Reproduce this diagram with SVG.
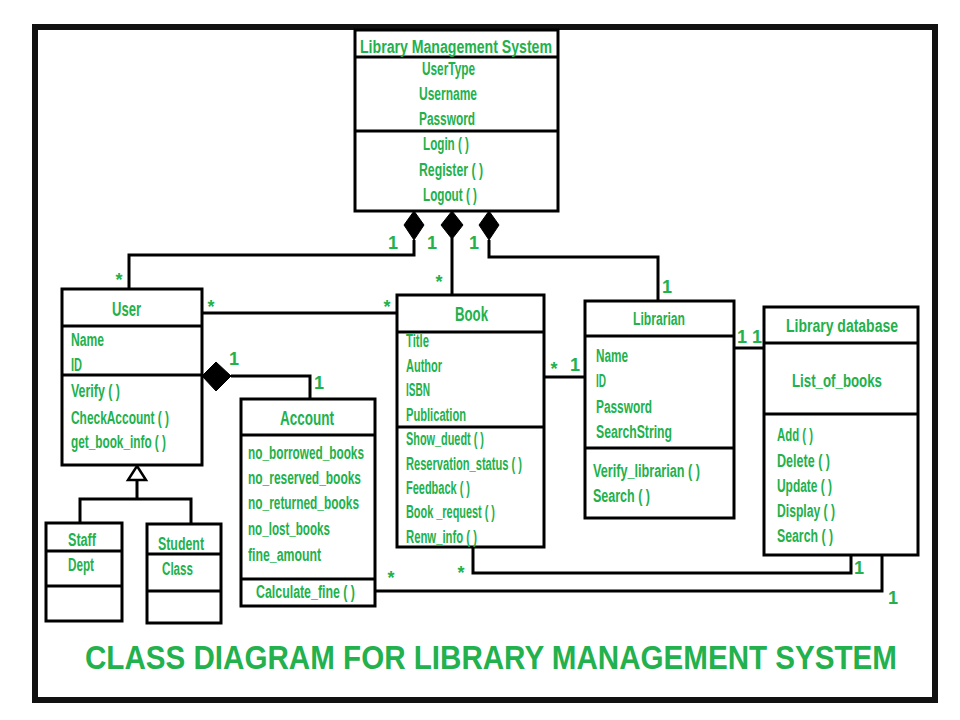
<svg xmlns="http://www.w3.org/2000/svg" width="960" height="720" viewBox="0 0 960 720">
<style>
.box{fill:#fff;stroke:#000;stroke-width:3}
.ln{fill:none;stroke:#000;stroke-width:3}
.dia{fill:#000;stroke:#000;stroke-width:1}
.tri{fill:#fff;stroke:#000;stroke-width:2.5}
text{font-family:"Liberation Sans",Arial,sans-serif;font-weight:bold;fill:#22b14c}
.a{font-size:18px}
.h{font-size:21px}
.m{font-size:18px;text-anchor:middle}
.ttl{font-size:28px}
</style>
<rect x="0" y="0" width="960" height="720" fill="#fff"/>
<rect x="35" y="27" width="900" height="673" fill="#fff" stroke="#111" stroke-width="6"/>

<g id="connectors">
<path class="ln" d="M414,240 V255 H129 V289"/>
<path class="ln" d="M452,238 V295"/>
<path class="ln" d="M489,240 V257 H658 V301"/>
<path class="ln" d="M202,313 H397"/>
<path class="ln" d="M231,376 H310 V399"/>
<path class="ln" d="M137,480 V499 M80,523 V499 H191 V524"/>
<path class="ln" d="M544,377 H585"/>
<path class="ln" d="M734,348 H764"/>
<path class="ln" d="M473,547 V573 H851 V555"/>
<path class="ln" d="M375,591 H882 V555"/>
<polygon class="dia" points="414,211 424,225 414,240 404,225"/>
<polygon class="dia" points="452,211 463,225 452,239 441,225"/>
<polygon class="dia" points="489,211 499,225 489,240 479,225"/>
<polygon class="dia" points="202,376 216,362 231,376 216,391"/>
<polygon class="tri" points="137,466 146,480 128,480"/>
<text class="m" x="119" y="286">*</text>
<text class="m" x="211" y="313">*</text>
<text class="m" x="387" y="313">*</text>
<text class="m" x="234" y="365">1</text>
<text class="m" x="319" y="389">1</text>
<text class="m" x="393" y="249">1</text>
<text class="m" x="432" y="249">1</text>
<text class="m" x="474" y="249">1</text>
<text class="m" x="439" y="288">*</text>
<text class="m" x="667" y="293">1</text>
<text class="m" x="554" y="375">*</text>
<text class="m" x="575" y="371">1</text>
<text class="m" x="742" y="343">1</text>
<text class="m" x="757" y="343">1</text>
<text class="m" x="461" y="579">*</text>
<text class="m" x="391" y="584">*</text>
<text class="m" x="859" y="574">1</text>
<text class="m" x="893" y="604">1</text>
</g>

<g id="lms">
<rect class="box" x="355" y="30" width="203" height="181"/>
<path class="ln" d="M355,57 H558 M355,131 H558"/>
<text class="a" x="360" y="53" textLength="192" lengthAdjust="spacingAndGlyphs">Library Management System</text>
<text class="a" x="422" y="75" textLength="53" lengthAdjust="spacingAndGlyphs">UserType</text>
<text class="a" x="419" y="100" textLength="58" lengthAdjust="spacingAndGlyphs">Username</text>
<text class="a" x="419" y="125" textLength="56" lengthAdjust="spacingAndGlyphs">Password</text>
<text class="a" x="423" y="150" textLength="46" lengthAdjust="spacingAndGlyphs">Login ( )</text>
<text class="a" x="419" y="176" textLength="64" lengthAdjust="spacingAndGlyphs">Register ( )</text>
<text class="a" x="423" y="201" textLength="54" lengthAdjust="spacingAndGlyphs">Logout ( )</text>
</g>

<g id="user">
<rect class="box" x="62" y="289" width="140" height="176"/>
<path class="ln" d="M62,326 H202 M62,375 H202"/>
<text class="h" x="112" y="316" textLength="29" lengthAdjust="spacingAndGlyphs">User</text>
<text class="a" x="71" y="346" textLength="33" lengthAdjust="spacingAndGlyphs">Name</text>
<text class="a" x="71" y="371" textLength="11" lengthAdjust="spacingAndGlyphs">ID</text>
<text class="a" x="71" y="397" textLength="49" lengthAdjust="spacingAndGlyphs">Verify ( )</text>
<text class="a" x="71" y="424" textLength="98" lengthAdjust="spacingAndGlyphs">CheckAccount ( )</text>
<text class="a" x="71" y="448" textLength="95" lengthAdjust="spacingAndGlyphs">get_book_info ( )</text>
</g>

<g id="staff">
<rect class="box" x="46" y="523" width="76" height="98"/>
<path class="ln" d="M46,551 H122 M46,586 H122"/>
<text class="a" x="68" y="546" textLength="28" lengthAdjust="spacingAndGlyphs">Staff</text>
<text class="a" x="68" y="571" textLength="26" lengthAdjust="spacingAndGlyphs">Dept</text>
</g>

<g id="student">
<rect class="box" x="147" y="524" width="74" height="99"/>
<path class="ln" d="M147,554 H221 M147,591 H221"/>
<text class="a" x="158" y="550" textLength="46" lengthAdjust="spacingAndGlyphs">Student</text>
<text class="a" x="162" y="575" textLength="31" lengthAdjust="spacingAndGlyphs">Class</text>
</g>

<g id="account">
<rect class="box" x="241" y="399" width="134" height="207"/>
<path class="ln" d="M241,435 H375"/>
<path class="ln" d="M241,579 H375" stroke-width="5"/>
<text class="h" x="280" y="425" textLength="54" lengthAdjust="spacingAndGlyphs">Account</text>
<text class="a" x="248" y="459" textLength="116" lengthAdjust="spacingAndGlyphs">no_borrowed_books</text>
<text class="a" x="248" y="484" textLength="113" lengthAdjust="spacingAndGlyphs">no_reserved_books</text>
<text class="a" x="248" y="509" textLength="111" lengthAdjust="spacingAndGlyphs">no_returned_books</text>
<text class="a" x="248" y="535" textLength="82" lengthAdjust="spacingAndGlyphs">no_lost_books</text>
<text class="a" x="248" y="561" textLength="73" lengthAdjust="spacingAndGlyphs">fine_amount</text>
<text class="a" x="256" y="598" textLength="99" lengthAdjust="spacingAndGlyphs">Calculate_fine ( )</text>
</g>

<g id="book">
<rect class="box" x="397" y="295" width="147" height="252"/>
<path class="ln" d="M397,332 H544 M397,427 H544"/>
<text class="h" x="455" y="321" textLength="33" lengthAdjust="spacingAndGlyphs">Book</text>
<text class="a" x="406" y="347" textLength="23" lengthAdjust="spacingAndGlyphs">Title</text>
<text class="a" x="406" y="372" textLength="36" lengthAdjust="spacingAndGlyphs">Author</text>
<text class="a" x="406" y="396" textLength="24" lengthAdjust="spacingAndGlyphs">ISBN</text>
<text class="a" x="406" y="421" textLength="60" lengthAdjust="spacingAndGlyphs">Publication</text>
<text class="a" x="406" y="445" textLength="78" lengthAdjust="spacingAndGlyphs">Show_duedt ( )</text>
<text class="a" x="406" y="470" textLength="116" lengthAdjust="spacingAndGlyphs">Reservation_status ( )</text>
<text class="a" x="406" y="494" textLength="64" lengthAdjust="spacingAndGlyphs">Feedback ( )</text>
<text class="a" x="406" y="518" textLength="89" lengthAdjust="spacingAndGlyphs">Book _request ( )</text>
<text class="a" x="406" y="543" textLength="71" lengthAdjust="spacingAndGlyphs">Renw_info ( )</text>
</g>

<g id="librarian">
<rect class="box" x="585" y="301" width="149" height="217"/>
<path class="ln" d="M585,336 H734 M585,448 H734"/>
<text class="a" x="633" y="325" textLength="52" lengthAdjust="spacingAndGlyphs">Librarian</text>
<text class="a" x="596" y="362" textLength="32" lengthAdjust="spacingAndGlyphs">Name</text>
<text class="a" x="596" y="387" textLength="10" lengthAdjust="spacingAndGlyphs">ID</text>
<text class="a" x="596" y="413" textLength="56" lengthAdjust="spacingAndGlyphs">Password</text>
<text class="a" x="596" y="438" textLength="76" lengthAdjust="spacingAndGlyphs">SearchString</text>
<text class="a" x="593" y="477" textLength="107" lengthAdjust="spacingAndGlyphs">Verify_librarian ( )</text>
<text class="a" x="593" y="502" textLength="57" lengthAdjust="spacingAndGlyphs">Search ( )</text>
</g>

<g id="librarydb">
<rect class="box" x="764" y="307" width="154" height="248"/>
<path class="ln" d="M764,343 H918 M764,414 H918"/>
<text class="a" x="786" y="332" textLength="112" lengthAdjust="spacingAndGlyphs" font-size="20">Library database</text>
<text class="a" x="792" y="387" textLength="90" lengthAdjust="spacingAndGlyphs" font-size="20">List_of_books</text>
<text class="a" x="777" y="441" textLength="36" lengthAdjust="spacingAndGlyphs">Add ( )</text>
<text class="a" x="777" y="467" textLength="53" lengthAdjust="spacingAndGlyphs">Delete ( )</text>
<text class="a" x="777" y="492" textLength="55" lengthAdjust="spacingAndGlyphs">Update ( )</text>
<text class="a" x="777" y="517" textLength="58" lengthAdjust="spacingAndGlyphs">Display ( )</text>
<text class="a" x="777" y="542" textLength="56" lengthAdjust="spacingAndGlyphs">Search ( )</text>
</g>

<g id="title">
<text class="ttl" transform="translate(85,669) scale(1,1.2)" x="0" y="0" textLength="812" lengthAdjust="spacingAndGlyphs">CLASS DIAGRAM FOR LIBRARY MANAGEMENT SYSTEM</text>
</g>
</svg>
